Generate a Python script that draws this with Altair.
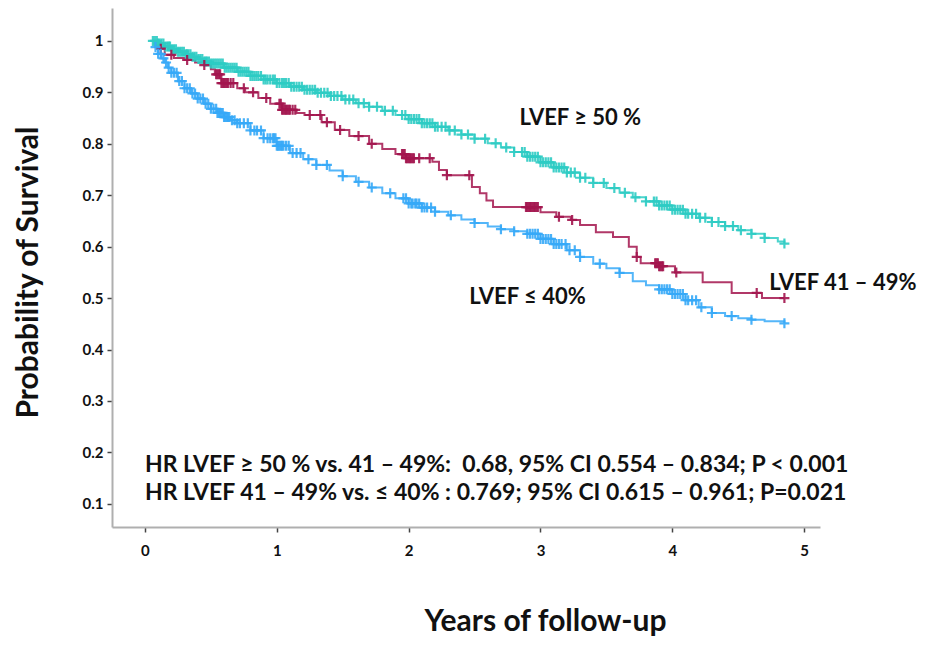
import altair as alt
import pandas as pd

# ---- Kaplan-Meier step points (years, survival) ----
hi_t = [0.05, 0.1, 0.15, 0.2, 0.25, 0.3, 0.35, 0.4, 0.45, 0.5, 0.6, 0.7, 0.8, 0.9, 1.0, 1.1, 1.2, 1.3, 1.4,
        1.5, 1.6, 1.7, 1.8, 1.9, 2.0, 2.1, 2.2, 2.3, 2.4, 2.5, 2.6, 2.7, 2.8, 2.9, 3.0, 3.1, 3.2, 3.3, 3.4,
        3.5, 3.6, 3.7, 3.8, 3.9, 4.0, 4.1, 4.2, 4.3, 4.4, 4.5, 4.6, 4.7, 4.8, 4.85]
hi_s = [1.0, 0.995, 0.989, 0.984, 0.979, 0.974, 0.969, 0.965, 0.960, 0.956, 0.948, 0.940, 0.932, 0.925, 0.918,
        0.911, 0.905, 0.899, 0.893, 0.886, 0.879, 0.872, 0.864, 0.856, 0.848, 0.840, 0.833, 0.826, 0.818, 0.810,
        0.801, 0.793, 0.784, 0.775, 0.764, 0.754, 0.744, 0.734, 0.724, 0.714, 0.705, 0.696, 0.688, 0.680, 0.672,
        0.664, 0.656, 0.648, 0.640, 0.632, 0.625, 0.617, 0.610, 0.606]

mid_t = [0.05, 0.08, 0.1, 0.15, 0.22, 0.3, 0.38, 0.45, 0.5, 0.53, 0.58, 0.7, 0.76, 0.86, 0.95, 1.04, 1.15,
         1.21, 1.34, 1.44, 1.55, 1.7, 1.8, 1.9, 1.98, 2.18, 2.23, 2.29, 2.48, 2.54, 2.59, 2.64, 3.0, 3.12,
         3.23, 3.3, 3.42, 3.55, 3.67, 3.73, 3.76, 3.9, 4.02, 4.23, 4.45, 4.68, 4.85]
mid_s = [1.0, 0.992, 0.985, 0.973, 0.967, 0.963, 0.958, 0.953, 0.945, 0.935, 0.918, 0.908, 0.900, 0.889,
         0.878, 0.866, 0.860, 0.856, 0.842, 0.827, 0.815, 0.800, 0.790, 0.780, 0.772, 0.765, 0.749, 0.739,
         0.716, 0.704, 0.690, 0.677, 0.667, 0.658, 0.652, 0.642, 0.628, 0.619, 0.600, 0.580, 0.568, 0.562,
         0.550, 0.531, 0.510, 0.500, 0.500]

lo_t = [0.05, 0.075, 0.1, 0.125, 0.15, 0.175, 0.2, 0.25, 0.3, 0.35, 0.4, 0.45, 0.5, 0.55, 0.6, 0.65, 0.7,
        0.8, 0.9, 1.0, 1.1, 1.2, 1.3, 1.4, 1.5, 1.6, 1.7, 1.8, 1.9, 2.0, 2.1, 2.2, 2.3, 2.4, 2.5, 2.6, 2.7,
        2.8, 2.9, 3.0, 3.1, 3.2, 3.3, 3.4, 3.5, 3.6, 3.7, 3.8, 3.9, 4.0, 4.1, 4.2, 4.3, 4.4, 4.5, 4.6, 4.7,
        4.85]
lo_s = [1.0, 0.988, 0.975, 0.966, 0.958, 0.948, 0.938, 0.922, 0.908, 0.898, 0.888, 0.878, 0.868, 0.860,
        0.852, 0.846, 0.840, 0.826, 0.811, 0.796, 0.782, 0.770, 0.759, 0.748, 0.737, 0.726, 0.715, 0.704,
        0.694, 0.684, 0.676, 0.668, 0.661, 0.653, 0.646, 0.639, 0.634, 0.630, 0.625, 0.615, 0.605, 0.593,
        0.580, 0.567, 0.558, 0.549, 0.533, 0.525, 0.517, 0.508, 0.496, 0.482, 0.471, 0.465, 0.461, 0.458,
        0.455, 0.451]

# ---- censoring times (years) ----
hi_c = [0.06, 0.075, 0.09, 0.1, 0.11, 0.125, 0.14, 0.155, 0.17, 0.18, 0.19, 0.205, 0.22, 0.235, 0.25, 0.265,
        0.28, 0.295, 0.31, 0.32, 0.33, 0.345, 0.36, 0.375, 0.39, 0.405, 0.42, 0.435, 0.45, 0.46, 0.47, 0.485,
        0.5, 0.515, 0.53, 0.545, 0.56, 0.575, 0.59, 0.605, 0.62, 0.635, 0.65, 0.665, 0.68, 0.695, 0.71, 0.725,
        0.74, 0.755, 0.77, 0.785, 0.8, 0.815, 0.83, 0.845, 0.86, 0.88, 0.9, 0.915, 0.93, 0.95, 0.97, 0.985,
        1.0, 1.02, 1.04, 1.055, 1.07, 1.09, 1.11, 1.13, 1.15, 1.17, 1.19, 1.21, 1.23, 1.25, 1.27, 1.29, 1.31,
        1.335, 1.36, 1.385, 1.41, 1.435, 1.46, 1.49, 1.52, 1.55, 1.58, 1.62, 1.66, 1.7, 1.76, 1.82, 1.88,
        1.95, 1.975, 2.0, 2.02, 2.04, 2.06, 2.08, 2.1, 2.12, 2.14, 2.16, 2.18, 2.2, 2.22, 2.25, 2.28, 2.31,
        2.35, 2.4, 2.45, 2.5, 2.58, 2.66, 2.74, 2.8, 2.86, 2.88, 2.9, 2.92, 2.94, 2.96, 2.98, 3.0, 3.02, 3.04,
        3.06, 3.08, 3.1, 3.12, 3.14, 3.16, 3.18, 3.2, 3.23, 3.26, 3.3, 3.34, 3.4, 3.48, 3.56, 3.64, 3.72, 3.8,
        3.86, 3.88, 3.9, 3.92, 3.94, 3.96, 3.98, 4.0, 4.02, 4.04, 4.06, 4.08, 4.1, 4.12, 4.15, 4.18, 4.21,
        4.25, 4.3, 4.35, 4.4, 4.46, 4.52, 4.6, 4.7, 4.85]
mid_c = [0.12, 0.2, 0.32, 0.45, 0.54, 0.55, 0.56, 0.57, 0.58, 0.59, 0.6, 0.61, 0.62, 0.63, 0.65, 0.67, 0.75,
         0.82, 0.92, 1.02, 1.03, 1.04, 1.05, 1.06, 1.07, 1.08, 1.09, 1.1, 1.12, 1.14, 1.25, 1.33, 1.38, 1.48,
         1.62, 1.72, 1.95, 1.96, 1.97, 1.98, 1.99, 2.0, 2.01, 2.02, 2.03, 2.04, 2.08, 2.16, 2.29, 2.46, 2.89,
         2.9, 2.91, 2.92, 2.93, 2.94, 2.95, 2.96, 2.97, 2.98, 3.14, 3.24, 3.73, 3.87, 3.88, 3.89, 3.9, 3.91,
         3.92, 3.93, 4.03, 4.64, 4.85]
lo_c = [0.08, 0.1, 0.12, 0.14, 0.16, 0.18, 0.2, 0.22, 0.24, 0.26, 0.28, 0.3, 0.32, 0.34, 0.36, 0.38, 0.4,
        0.42, 0.44, 0.46, 0.48, 0.5, 0.52, 0.54, 0.55, 0.56, 0.57, 0.58, 0.59, 0.6, 0.61, 0.62, 0.63, 0.64,
        0.66, 0.68, 0.7, 0.72, 0.75, 0.78, 0.8, 0.83, 0.85, 0.88, 0.9, 0.93, 0.95, 0.97, 0.98, 0.99, 1.0,
        1.01, 1.02, 1.03, 1.04, 1.05, 1.07, 1.09, 1.12, 1.15, 1.18, 1.24, 1.3, 1.38, 1.5, 1.62, 1.72, 1.86,
        1.96, 1.98, 2.0, 2.02, 2.03, 2.05, 2.06, 2.08, 2.1, 2.12, 2.14, 2.17, 2.2, 2.32, 2.5, 2.7, 2.8, 2.9,
        2.92, 2.94, 2.96, 2.98, 3.0, 3.02, 3.04, 3.06, 3.08, 3.1, 3.12, 3.14, 3.16, 3.19, 3.22, 3.26, 3.3,
        3.45, 3.6, 3.9, 3.92, 3.94, 3.96, 3.98, 4.0, 4.02, 4.04, 4.06, 4.08, 4.1, 4.12, 4.15, 4.18, 4.22,
        4.3, 4.45, 4.6, 4.85]

series_names = ["LVEF ≥ 50 %", "LVEF 41 – 49%", "LVEF ≤ 40%"]
series_colors = ["#2DCCC4", "#A3154E", "#36A9F8"]

# ---- annotation texts (data coordinates) ----
ann_text = ["LVEF ≥ 50 %", "LVEF 41 – 49%", "LVEF ≤ 40%",
            "HR LVEF ≥ 50 % vs. 41 – 49%:\u00a0 0.68, 95% CI 0.554 – 0.834; P < 0.001",
            "HR LVEF 41 – 49% vs. ≤ 40% : 0.769; 95% CI 0.615 – 0.961; P=0.021"]
ann_x = [2.84, 4.735, 2.46, 0.0, 0.0]
ann_y = [0.850, 0.529, 0.502, 0.175, 0.121]
ann_kind = ["curve", "curve", "curve", "hr", "hr"]

x_ticks = [0, 1, 2, 3, 4, 5]
y_ticks = [0.1, 0.2, 0.3, 0.4, 0.5, 0.6, 0.7, 0.8, 0.9, 1.0]

steps_rows, cens_rows = [], []
for name, ts, ss, cs in zip(series_names, [hi_t, mid_t, lo_t], [hi_s, mid_s, lo_s], [hi_c, mid_c, lo_c]):
    for t, s in zip(ts, ss):
        steps_rows.append({"series": name, "t": t, "s": s})
    for c in cs:
        # Kaplan-Meier value at the censoring time (last step at or before it)
        val = ss[0]
        for t, s in zip(ts, ss):
            if t <= c:
                val = s
        cens_rows.append({"series": name, "t": c, "s": val})

steps = pd.DataFrame(steps_rows)
cens = pd.DataFrame(cens_rows)
ann = pd.DataFrame({"label": ann_text, "x": ann_x, "y": ann_y, "kind": ann_kind})

FONT = "Lato"
xs = alt.Scale(domain=[-0.25, 5.12], nice=False, zero=False)
ys = alt.Scale(domain=[0.055, 1.064], nice=False, zero=False)
cs = alt.Scale(domain=series_names, range=series_colors)

x_enc = alt.X("t:Q", scale=xs, axis=alt.Axis(
    values=x_ticks, format="d", title="Years of follow-up", grid=False,
    domainColor="#AFAFAF", domainWidth=2, tickColor="#444444", tickSize=5, tickWidth=1.5,
    labelFont=FONT, labelFontWeight="bold", labelFontSize=15, labelColor="#111111", labelPadding=11,
    titleFont=FONT, titleFontWeight="bold", titleFontSize=30, titleColor="#111111",
    titleX=433, titleY=103, titleAlign="center", titleBaseline="alphabetic"))
y_enc = alt.Y("s:Q", scale=ys, axis=alt.Axis(
    values=y_ticks, format=".1~f", title="Probability of Survival", grid=False,
    domainColor="#AFAFAF", domainWidth=2, tickColor="#444444", tickSize=5, tickWidth=1.5,
    labelFont=FONT, labelFontWeight="bold", labelFontSize=15, labelColor="#111111", labelPadding=4,
    titleFont=FONT, titleFontWeight="bold", titleFontSize=30, titleColor="#111111",
    titleX=-84, titleY=264, titleAngle=270, titleAlign="center", titleBaseline="middle"))

lines = alt.Chart(steps).mark_line(interpolate="step-after", strokeWidth=2, opacity=0.85).encode(
    x=x_enc, y=y_enc,
    color=alt.Color("series:N", scale=cs, legend=None),
    detail="series:N")

plus = "M-1,0L1,0M0,-1L0,1"
marks = alt.Chart(cens).mark_point(shape=plus, filled=False, size=100, strokeWidth=2.2, opacity=0.9).encode(
    x="t:Q", y="s:Q",
    color=alt.Color("series:N", scale=cs, legend=None))

texts = alt.Chart(ann).mark_text(align="left", baseline="middle", font=FONT, fontWeight="bold",
                                 color="#111111").encode(
    x="x:Q", y="y:Q", text="label:N",
    size=alt.Size("kind:N", scale=alt.Scale(domain=["curve", "hr"], range=[22, 23]), legend=None))

chart = alt.layer(lines, marks, texts).properties(
    width=708, height=519,
    autosize=alt.AutoSizeParams(type="none"),
    padding={"left": 104, "top": 0, "right": 100, "bottom": 114},
).configure_view(stroke=None)

chart.save("out.html", embed_options={"renderer": "svg", "actions": False})
